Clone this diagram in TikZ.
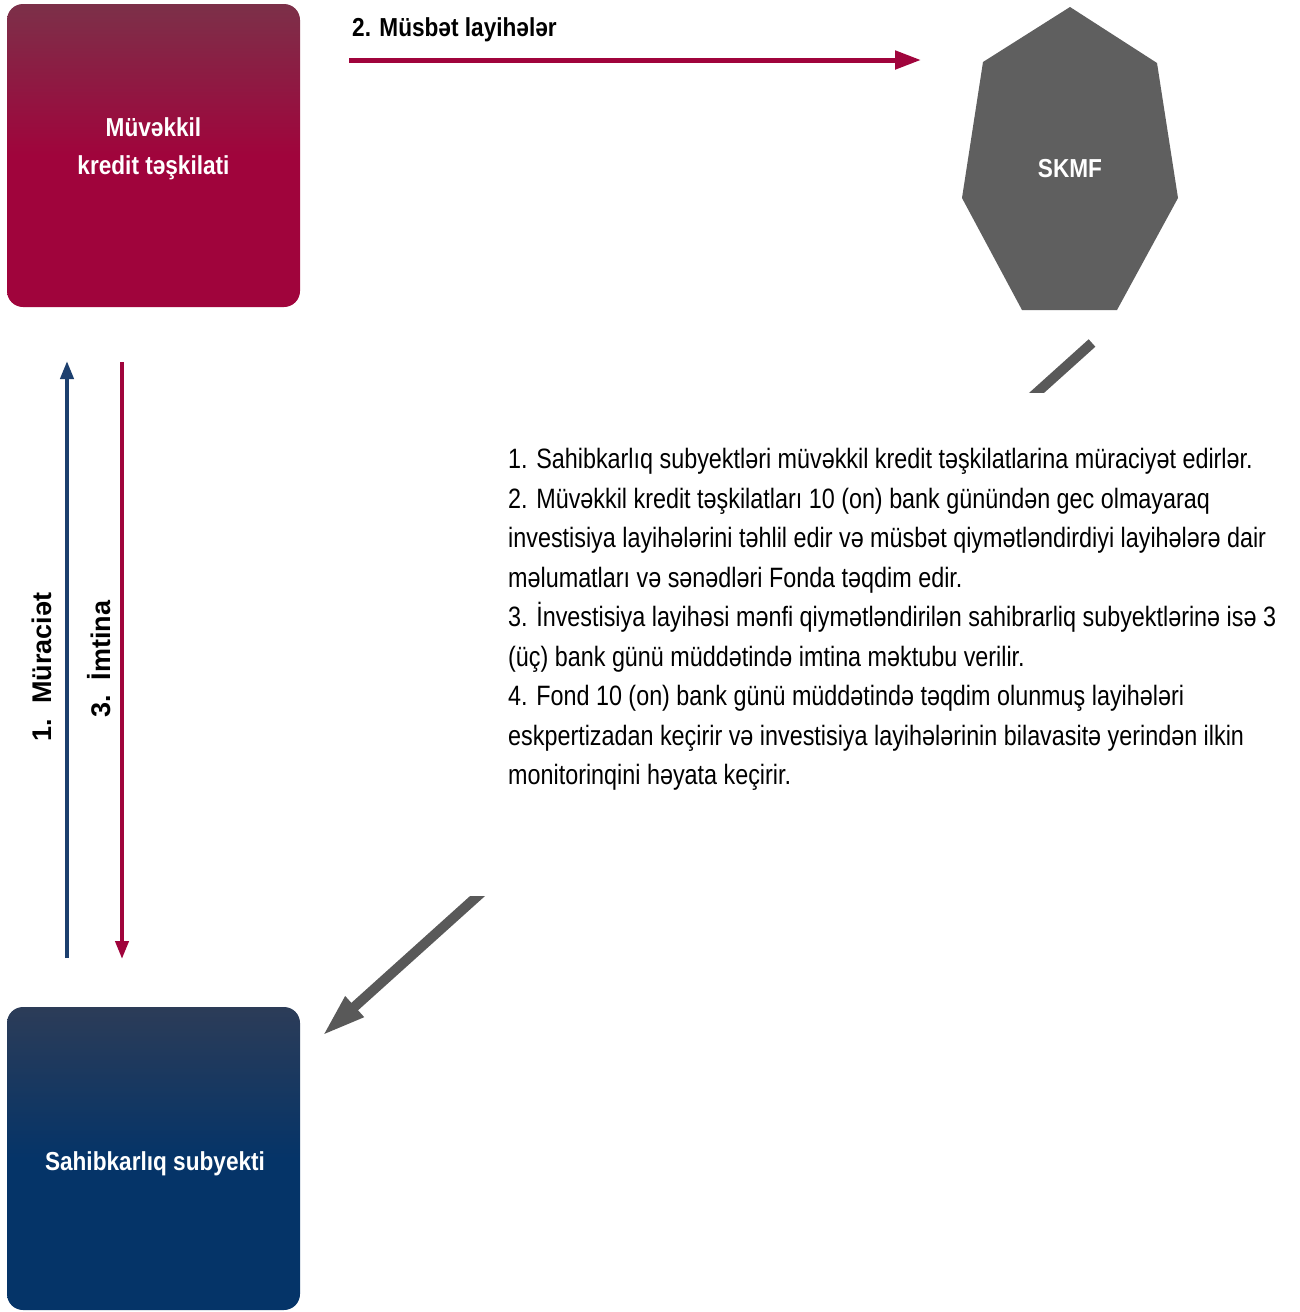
\documentclass[tikz,border=0pt]{standalone}
\usepackage{fontspec}
\setmainfont{Liberation Sans}
\newfontfamily\condf[FakeStretch=0.87]{Liberation Sans}
\newfontfamily\bodyf[FakeStretch=0.834]{Liberation Sans}
\usetikzlibrary{arrows.meta}
\definecolor{crim}{HTML}{A0043C}
\definecolor{crimtop}{HTML}{7C3049}
\definecolor{navy}{HTML}{1C3F6E}
\definecolor{navybox}{HTML}{053468}
\definecolor{navytop}{HTML}{2C3C58}
\definecolor{skgray}{HTML}{5F5F5F}
\definecolor{argray}{HTML}{595959}
\tikzset{
  boxnode/.style={minimum width=293pt, minimum height=303pt, rounded corners=16pt, inner sep=0pt},
  boxtext/.style={text=white, font=\condf\bfseries\fontsize{26}{38}\selectfont, align=center, inner sep=0pt},
  lbl/.style={font=\condf\bfseries\fontsize{26}{30}\selectfont, inner sep=0pt},
  vlbl/.style={font=\bfseries\fontsize{27}{30}\selectfont, inner sep=0pt, rotate=90},
  crimarrow/.style={draw=crim, line width=5pt, -{Triangle[length=26pt,width=18pt]}},
  navyarrow/.style={draw=navy, line width=4pt, -{Triangle[length=18pt,width=13pt]}},
  crimvarrow/.style={draw=crim, line width=4pt, -{Triangle[length=18pt,width=13pt]}},
  grayarrow/.style={draw=argray, line width=10pt, -{Triangle[length=44pt,width=25pt]}},
}
\begin{document}
\begin{tikzpicture}[x=1pt,y=-1pt]
\useasboundingbox (0,0) rectangle (1300,1312);
\fill[white] (0,0) rectangle (1300,1312);

% boxes
\node[boxnode, top color=crimtop, bottom color=crim, middle color=crim] (mkt) at (153.5,155.5) {};
\node[boxtext] (mkttext) at (153.5,148.5) {Müvəkkil\\kredit təşkilati};

\node[boxnode, top color=navytop, bottom color=navybox, middle color=navybox] (sub) at (153.5,1158.5) {};
\node[boxtext] (subtext) at (155,1164) {Sahibkarlıq subyekti};

% heptagon
\fill[skgray] (1070,7) -- (1157,63) -- (1178,198) -- (1117,310) -- (1022,310) -- (962,198) -- (983,62) -- cycle;
\node[boxtext] (skmf) at (1070,169) {SKMF};

% top arrow
\coordinate (a2s) at (349,60);
\coordinate (a2e) at (921,60);
\draw[crimarrow] (a2s) -- (a2e);
\node[lbl, anchor=west] (a2lbl) at (352,30) {2. Müsbət layihələr};

% vertical arrows
\coordinate (v1s) at (67,958);
\coordinate (v1e) at (67,361);
\draw[navyarrow] (v1s) -- (v1e);
\coordinate (v3s) at (122,362);
\coordinate (v3e) at (122,959);
\draw[crimvarrow] (v3s) -- (v3e);
\node[vlbl] (v1lbl) at (42,667) {1.\ \ Müraciət};
\node[vlbl] (v3lbl) at (99,659) {3.\ \ İmtina};

% diagonal arrow
\coordinate (d1) at (1092,343);
\coordinate (d2) at (322,1036);
\draw[grayarrow] (d1) -- (d2);
\fill[white] (470,393) rectangle (1300,896);

% text
\node[anchor=north west, inner sep=0pt, align=left, font=\bodyf\fontsize{28}{39.5}\selectfont] (txt) at (508,448) {%
1. Sahibkarlıq subyektləri müvəkkil kredit təşkilatlarina müraciyət edirlər.\\
2. Müvəkkil kredit təşkilatları 10 (on) bank günündən gec olmayaraq\\
investisiya layihələrini təhlil edir və müsbət qiymətləndirdiyi layihələrə dair\\
məlumatları və sənədləri Fonda təqdim edir.\\
3. İnvestisiya layihəsi mənfi qiymətləndirilən sahibrarliq subyektlərinə isə 3\\
(üç) bank günü müddətində imtina məktubu verilir.\\
4. Fond 10 (on) bank günü müddətində təqdim olunmuş layihələri\\
eskpertizadan keçirir və investisiya layihələrinin bilavasitə yerindən ilkin\\
monitorinqini həyata keçirir.};
\end{tikzpicture}
\end{document}
